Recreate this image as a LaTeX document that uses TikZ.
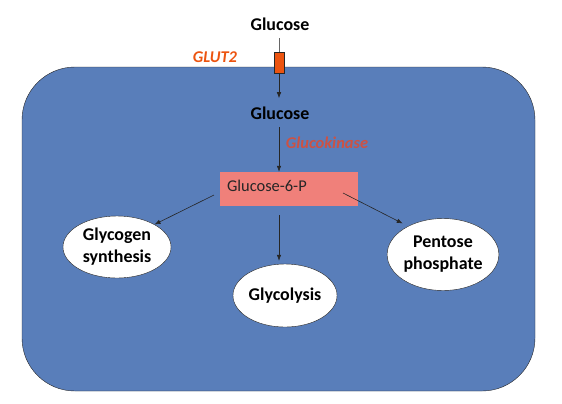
\documentclass[tikz,border=0pt]{standalone}
\usepackage{fontspec}
\setmainfont{Carlito}
\usetikzlibrary{shapes.geometric,arrows.meta}
\definecolor{cellblue}{RGB}{89,126,186}
\definecolor{glutorange}{RGB}{236,84,16}
\definecolor{gkred}{RGB}{204,82,68}
\definecolor{gsixp}{RGB}{240,128,122}
\begin{document}
\begin{tikzpicture}[x=1bp,y=-1bp,
  metab/.style={font=\fontsize{18}{22}\selectfont\bfseries,inner sep=8bp},
  fate/.style={ellipse,draw=black!85,fill=white,inner sep=0pt,align=center,
    font=\fontsize{18}{22}\selectfont\bfseries},
  enzyme/.style={font=\fontsize{16.5}{20}\selectfont\bfseries\itshape,anchor=base},
  flux/.style={-{Latex[length=6bp,width=4.5bp]},draw=black!85,line width=0.6bp}]
  \useasboundingbox (0,0) rectangle (562,403);

  %%% cell
  \draw[fill=cellblue,rounded corners=53bp,draw=black!85] (22,67) rectangle (535,391);

  %%% uptake
  \node[metab,anchor=base] (glcout) at (280,30) {Glucose};
  \node[draw=black!85,fill=glutorange,minimum width=10bp,minimum height=21bp,
    inner sep=0pt] (glut) at (279,62.5) {};
  \node[enzyme,text=glutorange] (glutlbl) at (215,62) {GLUT2};
  \node[metab,anchor=base] (glcin) at (280,119) {Glucose};
  \draw[draw=black!60,line width=0.6bp] (glcout.south -| glut.north) -- (glut.north);
  \draw[flux] (glut.south) -- (glcin.north -| glut.south);

  %%% phosphorylation
  \node[enzyme,text=gkred] (gk) at (327,148) {Glucokinase};
  \node[fill=gsixp,minimum height=34bp,text width=124bp,inner xsep=7bp,
    text depth=6bp,align=left,font=\fontsize{16.5}{20}\selectfont,
    text=black!85] (g6p) at (289,189) {Glucose-6-P};
  \draw[flux] (glcin.south -| glut.south) -- (g6p.north -| glut.south);

  %%% fates
  \node[fate,minimum width=108bp,minimum height=62bp] (glycogen) at (117,247)
    {Glycogen\\synthesis};
  \node[fate,minimum width=104bp,minimum height=63bp] (glycolysis) at (285,295.5)
    {Glycolysis};
  \node[fate,minimum width=106bp,minimum height=72bp] (pentose) at (443,254.5)
    {Pentose\\phosphate};
  \coordinate (toglycogen) at (214,195);
  \coordinate (toglycolysis) at (279,215);
  \coordinate (topentose) at (343,193);
  \draw[flux] (toglycogen) -- (glycogen.31);
  \draw[flux,shorten >=3bp] (toglycolysis) -- (toglycolysis |- glycolysis.north);
  \draw[flux,shorten >=6bp] (topentose) -- (pentose.141);
\end{tikzpicture}
\end{document}
